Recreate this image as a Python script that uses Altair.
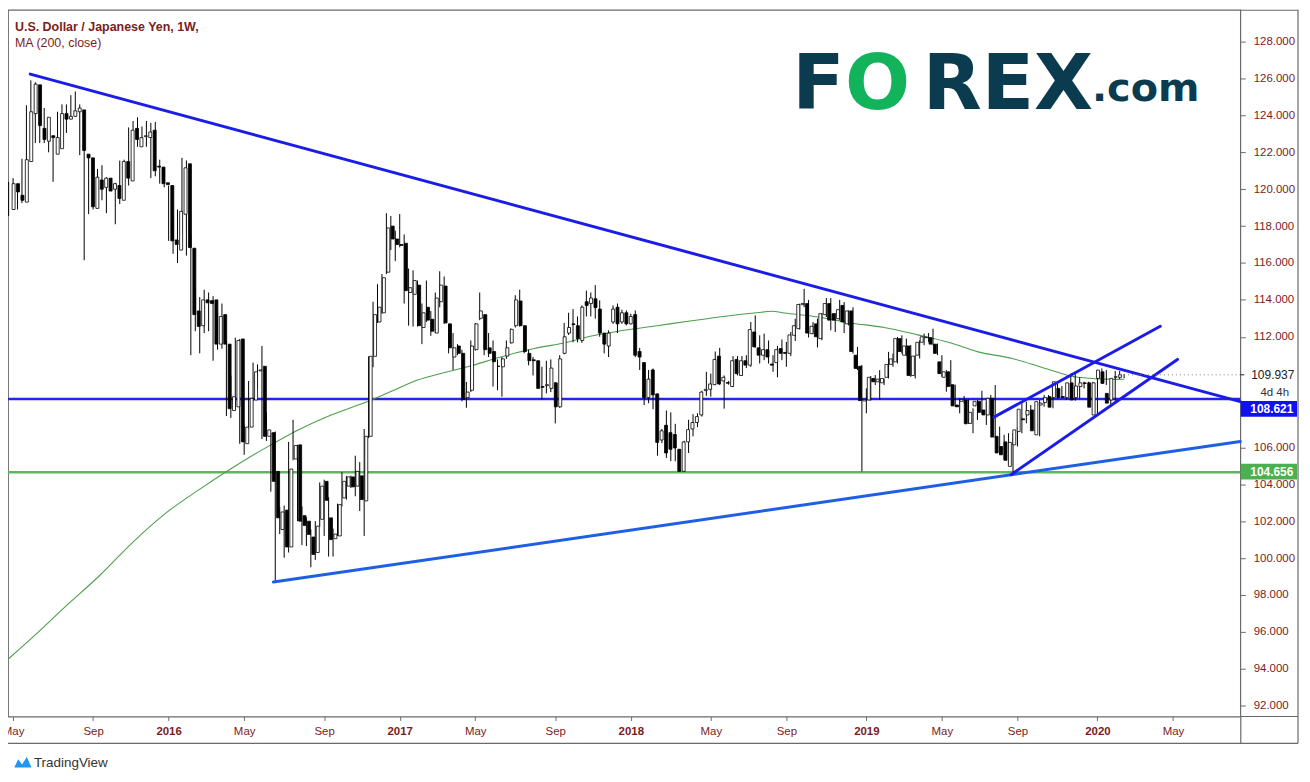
import altair as alt
import pandas as pd

# ---------------- data ----------------
first_week = "2015-04-27"   # weekly bars, Monday dates
opens = [118.9,120.3,119.67,119.3,121.5,124.1,125.66,123.3,122.6,122.9,121.9,122.2,124.1,123.8,123.95,124.2,124.3,121.9,121.7,118.96,
         120.5,120.1,120.6,120.0,120.2,119.4,121.5,120.45,123.3,122.3,122.85,122.8,123.2,121.25,121.2,120.35,120.2,117.25,116.7,
         118.64,121.38,116.8,113.4,112.6,114.0,113.96,114.0,111.6,113.2,111.6,108.0,108.2,111.88,106.2,107.1,108.57,110.15,110.4,106.6,
         106.8,104.7,101.55,102.6,100.6,105.37,106.14,102.3,102.0,101.14,100.3,102.1,104.16,102.18,101.05,101.2,103.26,103.9,104.4,103.9,
         104.46,103.1,106.6,110.94,112.8,
         113.3,115.5,118.0,117.3,117.0,117.07,114.4,114.3,114.8,112.5,113.6,112.95,112.2,113.9,114.75,112.7,110.9,111.5,111.1,108.7,
         109.1,111.3,113.0,113.2,111.4,111.2,110.4,110.37,110.95,111.67,112.6,113.94,112.6,111.1,110.75,110.7,109.3,109.35,109.2,109.5,
         108.2,111.1,112.2,
         112.7,112.6,111.8,113.9,113.8,114.06,113.5,112.2,111.5,112.8,113.6,112.8,113.3,112.7,113.2,111.2,110.6,108.7,110.2,108.9,
         106.4,107.2,106.8,106.7,105.9,104.7,106.3,107.0,107.35,107.76,109.08,109.15,109.4,110.95,109.6,109.52,109.3,110.77,109.9,110.7,
         110.46,112.26,
         111.4,111.0,111.3,110.52,110.6,111.36,111.15,111.1,112.08,112.44,113.74,113.8,112.17,112.7,111.9,113.2,113.8,113.25,112.98,113.7,
         112.7,113.4,111.0,110.4,108.52,108.57,109.74,109.56,109.5,109.8,110.5,110.64,111.9,111.0,111.5,109.9,111.0,111.7,111.95,111.95,
         111.6,110.64,109.8,110.1,
         109.4,108.3,108.5,108.57,107.3,108.25,108.5,108.03,107.76,108.66,106.6,106.05,106.3,104.97,106.14,106.86,107.55,107.76,108.03,106.68,
         108.3,108.43,108.75,108.7,109.2,108.76,108.7,109.5,108.7,109.3,109.5,109.5,107.76,109.74,110.1,108.93,108.57,109.8,109.8]
highs = [120.4,120.6,120.0,121.65,124.55,125.9,125.8,124.5,124.4,123.8,122.9,124.2,124.6,124.6,125.1,125.3,124.6,122.15,121.7,121.4,
         121.1,121.3,120.65,120.4,120.35,121.55,121.6,123.35,123.7,123.9,123.4,123.7,123.6,123.65,121.6,120.65,120.2,118.5,118.9,
         121.7,121.56,117.56,114.6,114.15,114.55,114.4,114.2,113.3,113.8,111.8,109.9,111.95,111.88,107.2,109.6,110.6,110.5,111.5,107.9,
         106.8,106.86,102.75,102.85,106.3,107.5,106.14,102.8,102.2,101.55,102.0,104.1,104.25,103.3,101.6,102.95,104.65,104.45,104.47,105.55,
         105.2,107.0,110.94,113.9,114.85,
         115.4,118.7,118.55,117.75,118.65,117.55,115.7,115.6,115.05,113.8,115.05,113.4,114.4,115.55,115.27,112.7,112.2,111.6,111.3,109.55,
         111.8,112.75,114.4,113.2,112.2,111.8,110.77,110.9,111.8,112.45,114.25,114.55,112.6,111.3,110.9,110.7,110.37,110.7,110.77,109.55,
         111.0,112.75,113.3,
         113.5,113.1,113.7,114.5,114.4,114.8,113.97,112.2,112.35,113.7,113.8,113.47,113.43,113.25,113.43,111.4,110.6,110.2,110.28,108.93,
         107.0,108.0,107.9,107.28,105.9,106.36,107.5,107.8,107.85,109.07,110.1,110.0,111.2,111.4,109.9,109.6,110.95,110.95,110.95,111.0,
         112.8,113.16,
         112.08,112.17,111.8,111.0,111.5,111.85,111.72,112.26,112.98,113.79,114.6,114.0,112.8,112.98,113.29,114.1,114.1,113.29,114.0,113.88,
         113.43,113.6,111.45,110.46,109.2,109.87,109.92,110.19,109.74,111.18,111.09,111.99,112.08,111.9,111.55,111.0,111.81,112.17,112.2,112.44,
         111.63,111.0,110.19,110.73,
         109.4,108.66,108.79,108.61,108.12,108.57,109.07,108.48,108.84,109.38,107.13,106.68,106.77,106.77,107.1,108.4,108.48,108.3,108.12,108.57,
         108.84,108.84,109.33,109.56,109.33,108.9,110.0,110.0,109.8,109.56,109.56,109.56,110.19,110.28,110.19,109.29,110.15,110.15,109.98]
lows = [118.55,119.5,118.9,119.25,121.5,123.9,122.5,122.5,122.5,122.0,120.4,122.2,123.6,123.05,123.8,124.0,121.85,116.15,118.65,118.9,
        119.1,119.4,118.7,119.9,118.1,119.2,120.0,120.2,122.3,122.3,122.5,122.3,120.6,120.7,120.3,120.1,117.2,116.5,116.0,
        117.65,116.4,111.0,112.3,111.1,112.2,112.3,110.7,111.3,111.35,107.7,107.6,108.1,106.2,105.6,107.0,108.5,109.15,106.45,106.35,
        103.6,98.7,101.3,100.02,100.3,105.3,102.0,100.7,100.65,99.5,99.9,101.7,101.2,100.08,100.08,101.2,102.8,103.17,103.8,103.35,
        102.55,101.2,106.5,110.35,112.75,
        113.25,115.4,116.7,116.1,116.85,113.8,112.6,112.55,112.55,111.6,112.8,112.05,112.2,113.6,112.7,111.1,110.2,111.0,108.5,108.15,
        109.0,111.25,112.9,111.0,110.9,109.3,109.1,108.75,110.8,111.63,112.5,112.55,111.1,110.45,109.9,109.2,108.6,108.93,109.0,107.3,
        108.15,111.05,112.1,
        111.7,111.7,111.67,113.1,113.1,112.98,112.0,111.1,110.9,112.7,112.2,112.7,112.62,112.67,110.9,110.2,108.3,108.4,108.07,105.55,
        106.23,105.43,105.25,105.25,104.7,104.7,105.7,106.6,107.1,107.67,108.8,108.75,109.38,109.38,108.1,109.4,109.29,109.9,109.87,110.3,
        110.37,111.4,
        110.55,110.73,110.55,110.1,109.8,110.73,110.37,110.95,111.77,112.39,113.6,111.96,112.14,111.42,111.81,113.07,112.35,112.26,112.89,112.2,
        112.62,111.09,110.19,104.7,107.85,108.54,109.38,108.57,109.38,109.74,110.37,110.55,111.09,110.95,109.83,109.74,110.82,111.54,111.72,111.54,
        111.0,109.83,109.02,109.3,
        108.2,107.85,108.39,107.28,106.77,107.49,107.85,107.22,107.67,106.5,105.6,105.34,105.07,104.46,106.05,106.77,107.31,107.49,106.86,106.6,
        108.21,108.39,108.12,108.66,108.66,108.57,108.61,108.53,108.66,109.2,109.29,107.94,107.71,109.56,109.38,108.3,108.48,109.7,109.75]
closes = [120.3,119.85,119.4,121.6,124.2,125.7,123.45,122.7,123.9,122.8,122.8,124.1,123.8,123.95,124.25,124.4,122.1,121.7,119.05,120.65,
          120.0,120.6,119.9,120.3,119.5,121.5,120.6,123.2,122.7,122.8,122.9,123.1,121.0,121.2,120.3,120.25,117.2,117.0,118.8,
          121.16,116.84,113.2,112.56,114.0,113.84,113.8,111.6,113.1,111.6,108.1,108.75,111.8,106.3,107.1,108.66,110.1,110.2,106.6,106.95,
          104.16,102.18,102.5,100.6,104.83,106.1,102.0,101.77,101.28,100.2,101.73,103.9,103.13,101.0,101.3,102.9,104.16,104.4,103.86,104.7,
          103.17,106.6,110.94,113.2,113.6,
          115.2,117.9,117.3,117.0,116.95,114.5,114.66,115.05,112.6,113.3,112.9,112.3,114.1,114.8,112.75,111.4,111.4,111.1,108.6,109.0,
          111.5,112.7,113.4,111.3,111.1,110.65,110.4,110.8,111.4,112.4,114.0,112.6,111.2,110.7,110.7,109.2,109.26,109.4,110.3,108.2,
          110.8,112.0,112.5,
          112.66,111.9,113.6,113.7,114.1,113.58,112.2,111.6,112.2,113.5,112.7,113.3,112.7,113.1,111.0,110.9,108.7,109.7,108.85,106.27,
          106.9,105.7,105.9,105.97,104.7,106.3,106.96,107.35,107.67,109.0,109.15,109.44,110.77,109.44,109.8,109.48,110.7,110.0,110.7,110.46,
          112.39,111.45,
          111.0,111.3,110.9,110.46,111.3,111.1,111.1,112.1,112.6,113.75,113.8,112.2,112.57,112.0,113.25,113.8,112.9,112.9,113.47,112.8,
          113.4,111.2,110.28,108.54,108.6,109.8,109.56,109.7,109.74,110.5,110.8,111.9,111.2,111.5,109.9,110.95,111.7,112.0,111.98,111.6,
          111.1,110.0,110.1,109.3,
          108.25,108.2,108.6,107.28,107.9,108.5,107.9,107.76,108.66,106.56,105.7,105.6,105.3,106.27,106.95,108.07,107.5,108.0,106.9,108.48,
          108.4,108.7,108.18,109.56,108.7,108.7,109.5,108.57,109.33,109.5,109.47,108.18,109.5,110.19,109.47,108.4,109.74,109.83,109.937]

ma_dates = ["2015-04-27","2015-06-04","2015-07-27","2015-09-17","2015-11-08","2015-12-31","2016-02-21","2016-04-13",
            "2016-06-04","2016-07-26","2016-09-16","2016-11-08","2016-12-30","2017-01-30","2017-03-05","2017-04-19",
            "2017-06-10","2017-08-02","2017-09-23","2017-10-29","2017-12-21","2018-02-11","2018-04-04","2018-05-27",
            "2018-07-18","2018-08-11","2018-08-31","2018-10-23","2018-12-14","2019-02-04","2019-03-29","2019-05-19",
            "2019-07-02","2019-08-25","2019-10-16","2019-12-06","2020-01-29","2020-02-17"]
ma_vals = [94.54,95.71,97.42,99.04,100.84,102.45,103.71,104.88,105.96,106.95,107.76,108.43,109.2,109.65,109.98,110.37,
           110.9,111.36,111.7,112.03,112.35,112.6,112.85,113.1,113.3,113.38,113.29,113.07,112.75,112.5,112.1,111.67,
           111.18,110.82,110.28,109.8,109.69,109.7]

# drawn trend lines: start date/price, end date/price
trend_names = ["falling", "rising", "channel_top", "channel_bottom"]
trend_d1 = ["2015-05-31", "2016-06-17", "2019-07-27", "2019-08-23"]
trend_p1 = [126.24, 98.70, 107.64, 104.52]
trend_d2 = ["2020-08-18", "2020-08-18", "2020-04-14", "2020-05-11"]
trend_p2 = [108.48, 106.32, 112.57, 110.77]

level_blue = 108.621
level_green = 104.656
badge_centre = [108.09, 104.69]   # the blue price badge sits below its line (pushed by the countdown)
last_price = 109.937
last_date = "2020-02-17"
countdown = "4d 4h"

y_ticks = [92, 94, 96, 98, 100, 102, 104, 106, 112, 114, 116, 118, 120, 122, 124, 126, 128]
x_tick_dates = [(2015,5,4),(2015,9,7),(2016,1,4),(2016,5,2),(2016,9,5),(2017,1,2),(2017,5,1),(2017,9,4),
                (2018,1,1),(2018,5,7),(2018,9,3),(2019,1,7),(2019,5,6),(2019,9,2),(2020,1,6),(2020,5,4)]

# ---------------- build tables ----------------
dates = pd.date_range(first_week, periods=len(closes), freq="7D").strftime("%Y-%m-%d")
candles = pd.DataFrame({"date": dates, "open": opens, "high": highs, "low": lows, "close": closes})
candles["dir"] = ["up" if c >= o else "down" for o, c in zip(opens, closes)]
ma = pd.DataFrame({"date": ma_dates, "ma": ma_vals})
trend_rows = []
for n, d1, p1, d2, p2 in zip(trend_names, trend_d1, trend_p1, trend_d2, trend_p2):
    trend_rows += [{"name": n, "date": d1, "price": p1, "k": 0}, {"name": n, "date": d2, "price": p2, "k": 1}]
trends = pd.DataFrame(trend_rows)

W, H = 1238, 710
AX = "#7b1c1c"
FRAME = "#6a6a6a"

xscale = alt.Scale(type="utc", domain=[alt.DateTime(year=2015, month=4, date=26, utc=True),
                                       alt.DateTime(year=2020, month=8, date=18, utc=True)])
yscale = alt.Scale(domain=[91.41, 129.73], nice=False, zero=False)
px = alt.Scale(domain=[0, W], range=[0, W])
py = alt.Scale(domain=[0, H], range=[0, H])

x_axis = alt.Axis(values=[alt.DateTime(year=y, month=m, date=d, utc=True) for y, m, d in x_tick_dates],
                  labelExpr="utcmonth(datum.value) == 0 ? utcFormat(datum.value, '%Y') : utcFormat(datum.value, '%b')",
                  labelFontWeight={"condition": {"test": "utcmonth(datum.value) == 0", "value": "bold"}, "value": "normal"},
                  title=None, grid=False, domain=False, tickSize=4, tickColor=FRAME, labelPadding=5,
                  labelColor=AX, labelFont="Liberation Sans", labelFontSize=11.5, labelFlush=False)
y_axis = alt.Axis(orient="right", values=y_ticks, format=".3f", title=None, grid=False, domain=False,
                  tickSize=5, tickColor=FRAME, labelPadding=8, labelColor=AX,
                  labelFont="Liberation Sans", labelFontSize=11.5)

X = alt.X("date:T", scale=xscale, axis=x_axis)
Xn = alt.X("date:T", scale=xscale, axis=None)


def one(text=""):
    return pd.DataFrame({"t": [text]})


# horizontal levels
hlines = alt.Chart(pd.DataFrame({"p": [level_blue, level_green], "c": ["b", "g"]})).mark_rule(strokeWidth=2.5).encode(
    y=alt.Y("p:Q", scale=yscale, axis=None),
    color=alt.Color("c:N", scale=alt.Scale(domain=["b", "g"], range=["#2424ee", "#5cb85c"]), legend=None),
)

ma_line = alt.Chart(ma).mark_line(color="#4c9f4c", strokeWidth=1.1, interpolate="monotone").encode(
    x=Xn, y=alt.Y("ma:Q", scale=yscale, axis=None))

wicks = alt.Chart(candles).mark_rule(color="#000000", strokeWidth=1).encode(
    x=X, y=alt.Y("low:Q", scale=yscale, axis=y_axis), y2="high:Q")

bodies = alt.Chart(candles).mark_bar(size=3, stroke="#000000", strokeWidth=0.8).encode(
    x=Xn, y=alt.Y("open:Q", scale=yscale, axis=None), y2="close:Q",
    fill=alt.Fill("dir:N", scale=alt.Scale(domain=["up", "down"], range=["#ffffff", "#000000"]), legend=None))

trend_lines = alt.Chart(trends).mark_line(strokeWidth=3, strokeCap="round").encode(
    x=Xn, y=alt.Y("price:Q", scale=yscale, axis=None), detail="name:N", order="k:Q",
    color=alt.Color("name:N", scale=alt.Scale(domain=trend_names,
                                              range=["#1c1ce8", "#1f5fe6", "#1c1ce8", "#1c1ce8"]), legend=None))

price_line = alt.Chart(pd.DataFrame({"d1": [last_date], "d2": ["2020-08-18"], "p": [last_price]})).mark_rule(
    color="#808080", strokeDash=[1, 3], strokeWidth=1).encode(
    x=alt.X("d1:T", scale=xscale, axis=None), x2="d2:T", y=alt.Y("p:Q", scale=yscale, axis=None))

# right-axis price badges
badges = pd.DataFrame({"lo": [c - 0.43 for c in badge_centre], "hi": [c + 0.43 for c in badge_centre],
                       "p": badge_centre, "txt": [f"{level_blue:.3f}", f"{level_green:.3f}"],
                       "c": ["b", "g"]})
badge_box = alt.Chart(badges).mark_rect().encode(
    x=alt.value(W + 0.5), x2=alt.value(W + 57),
    y=alt.Y("hi:Q", scale=yscale, axis=None), y2="lo:Q",
    color=alt.Color("c:N", scale=alt.Scale(domain=["b", "g"], range=["#1010f5", "#4caf50"]), legend=None))
badge_txt = alt.Chart(badges).mark_text(align="left", baseline="middle", color="white", fontWeight="bold",
                                        font="Liberation Sans", fontSize=12).encode(
    x=alt.value(W + 10), y=alt.Y("p:Q", scale=yscale, axis=None), text="txt:N")

last_df = pd.DataFrame({"p": [last_price], "txt": [f"{last_price:.3f}"], "cd": [countdown]})
last_tick = alt.Chart(last_df).mark_rule(color="#222222").encode(
    x=alt.value(W), x2=alt.value(W + 4), y=alt.Y("p:Q", scale=yscale, axis=None))
last_txt = alt.Chart(last_df).mark_text(align="left", baseline="middle", color="#222222",
                                        font="Liberation Sans", fontSize=12).encode(
    x=alt.value(W + 11), y=alt.Y("p:Q", scale=yscale, axis=None), text="txt:N")
last_cd = alt.Chart(last_df).mark_text(align="right", baseline="middle", color="#333333", dy=18,
                                       font="Liberation Sans", fontSize=11.5).encode(
    x=alt.value(W + 49), y=alt.Y("p:Q", scale=yscale, axis=None), text="cd:N")

# titles and logos
title1 = alt.Chart(one("U.S. Dollar / Japanese Yen, 1W,")).mark_text(
    align="left", baseline="alphabetic", color="#7a1d1d", font="Liberation Sans", fontSize=12.5, fontWeight="bold").encode(
    x=alt.value(7), y=alt.value(21), text="t:N")
title2 = alt.Chart(one("MA (200, close)")).mark_text(
    align="left", baseline="alphabetic", color="#7a1d1d", font="Liberation Sans", fontSize=12.5).encode(
    x=alt.value(7), y=alt.value(37), text="t:N")

logo_parts = pd.DataFrame({"t": ["F", "O", "REX"], "x": [788, 841, 919], "c": ["d", "g", "d"]})
logo = alt.Chart(logo_parts).mark_text(align="left", baseline="alphabetic", font="DejaVu Sans", fontSize=77,
                                       fontWeight="bold").encode(
    x=alt.X("x:Q", scale=px, axis=None), y=alt.value(100), text="t:N",
    color=alt.Color("c:N", scale=alt.Scale(domain=["d", "g"], range=["#0b3b4f", "#12b35a"]), legend=None))
logo_com = alt.Chart(one(".com")).mark_text(align="left", baseline="alphabetic", font="DejaVu Sans", fontSize=40,
                                            fontWeight="bold", color="#0b3b4f").encode(
    x=alt.value(1089), y=alt.value(92), text="t:N")

tv_icon = alt.Chart(one()).mark_point(
    shape="M -1 0.6 L -0.55 -0.35 L -0.1 0.25 L 0.45 -0.6 L 1 0.6 Z", filled=True, color="#2196f3", size=300, opacity=1
).encode(x=alt.value(15), y=alt.value(756))
tv_text = alt.Chart(one("TradingView")).mark_text(align="left", baseline="middle", font="Liberation Sans",
                                                  fontSize=13.5, color="#333333").encode(
    x=alt.value(26), y=alt.value(757), text="t:N")

# chart frame pieces outside the plot area
frame_v = alt.Chart(pd.DataFrame({"x": [W + 58, W + 0.5], "a": [0, H], "b": [H + 27, H + 27]})).mark_rule(
    color=FRAME, strokeWidth=1.2).encode(x=alt.X("x:Q", scale=px, axis=None),
                                         y=alt.Y("a:Q", scale=py, axis=None), y2="b:Q")
frame_h = alt.Chart(pd.DataFrame({"y": [H + 27, H, 0.5], "a": [0, W, W], "b": [W + 58, W + 58, W + 58]})).mark_rule(
    color=FRAME, strokeWidth=1.2).encode(y=alt.Y("y:Q", scale=py, axis=None),
                                         x=alt.X("a:Q", scale=px, axis=None), x2="b:Q")

chart = alt.layer(
    hlines, ma_line, wicks, bodies, trend_lines, price_line,
    badge_box, badge_txt, last_tick, last_txt, last_cd,
    title1, title2, logo, logo_com, tv_icon, tv_text, frame_v, frame_h
).resolve_scale(x="independent", y="independent", color="independent", fill="independent").properties(
    width=W, height=H,
    padding={"left": 0, "top": 0, "right": 62, "bottom": 54},
    autosize=alt.AutoSizeParams(type="none"),
    background="white",
).configure_view(stroke=FRAME, strokeWidth=1.2)

chart.save("out.html", embed_options={"renderer": "svg", "actions": False})
